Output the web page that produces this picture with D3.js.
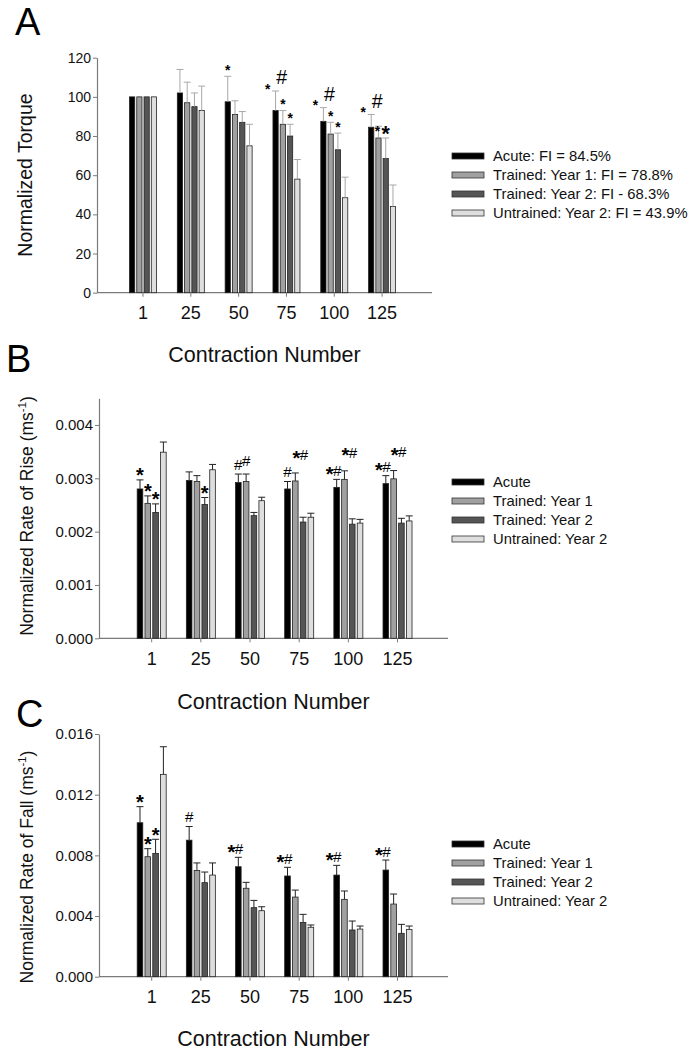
<!DOCTYPE html>
<html>
<head>
<meta charset="utf-8">
<script src="https://cdn.jsdelivr.net/npm/d3@7"></script>
<style>
  html, body { margin: 0; padding: 0; background: #fff; }
  svg { display: block; font-family: "Liberation Sans", Arial, sans-serif; }
</style>
</head>
<body>
<svg id="chart" width="690" height="1050"></svg>
<script>
// ---------------- DATA ----------------
const categories = ["1", "25", "50", "75", "100", "125"];
const seriesNames = ["Acute", "Trained: Year 1", "Trained: Year 2", "Untrained: Year 2"];
const legendLabelsA = ["Acute: FI = 84.5%", "Trained: Year 1: FI = 78.8%", "Trained: Year 2: FI - 68.3%", "Untrained: Year 2: FI = 43.9%"];
const xTitle = "Contraction Number";

// Panel A: normalized torque (rows = series, columns = categories)
const torqueMean = [
  [100, 102, 97.5, 93, 87.5, 84.5],
  [100, 97, 91, 86, 81, 79],
  [100, 95, 87, 80, 73, 68.5],
  [100, 93, 75, 58, 48.5, 44]
];
const torqueErr = [
  [0, 12, 13, 10, 7, 6.5],
  [0, 10.5, 7, 7, 6, 6],
  [0, 7, 5.5, 6, 8.5, 10.5],
  [0, 12.5, 11, 10, 10.5, 11]
];
const torqueTicks = [0, 20, 40, 60, 80, 100, 120];
// [categoryIndex, seriesIndex, symbol, placement, size]
const torqueMarks = [
  [2, 0, "*", "top", "s"],
  [3, 0, "*", "left", "s"], [3, 0, "#", "right", "L"], [3, 1, "*", "top", "s"], [3, 2, "*", "top", "s"],
  [4, 0, "*", "left", "s"], [4, 0, "#", "right", "L"], [4, 1, "*", "top", "s"], [4, 2, "*", "top", "s"],
  [5, 0, "*", "left", "s"], [5, 0, "#", "right", "L"], [5, 1, "*", "low", "s"], [5, 2, "*", "top", "L"]
];

// Panel B: normalized rate of rise
const riseMean = [
  [0.00280, 0.00296, 0.00292, 0.00280, 0.00283, 0.00290],
  [0.00253, 0.00294, 0.00294, 0.00295, 0.00298, 0.00299],
  [0.00236, 0.00251, 0.00230, 0.00218, 0.00214, 0.00216],
  [0.00349, 0.00316, 0.00258, 0.00227, 0.00216, 0.00220]
];
const riseErr = [
  [0.00017, 0.00016, 0.00016, 0.00014, 0.00015, 0.00015],
  [0.00014, 0.00011, 0.00014, 0.00015, 0.00016, 0.000155],
  [0.00016, 0.00013, 0.00006, 0.00009, 0.00010, 0.00009],
  [0.00019, 0.00010, 0.000065, 0.000075, 0.00007, 0.000095]
];
const riseTicks = [0, 0.001, 0.002, 0.003, 0.004];
const riseMarks = [
  [0, 0, "*", "top", "L"], [0, 1, "*", "top", "L"], [0, 2, "*", "top", "L"],
  [1, 2, "*", "top", "L"],
  [2, 0, "#", "top", "L"], [2, 1, "#", "high", "L"],
  [3, 0, "#", "top", "L"], [3, 1, "*#", "right", "L"],
  [4, 0, "*#", "top", "L"], [4, 1, "*#", "right", "L"],
  [5, 0, "*#", "top", "L"], [5, 1, "*#", "right", "L"]
];

// Panel C: normalized rate of fall
const fallMean = [
  [0.01015, 0.00900, 0.00725, 0.00664, 0.00670, 0.00703],
  [0.00791, 0.00700, 0.00583, 0.00525, 0.00510, 0.00479],
  [0.00813, 0.00620, 0.00455, 0.00358, 0.00308, 0.00286],
  [0.01334, 0.00670, 0.00435, 0.00326, 0.00314, 0.00312]
];
const fallErr = [
  [0.00106, 0.00090, 0.00062, 0.00057, 0.00064, 0.00066],
  [0.00053, 0.00050, 0.00039, 0.00046, 0.00055, 0.00066],
  [0.00093, 0.00070, 0.00048, 0.00053, 0.00059, 0.00059],
  [0.00182, 0.00080, 0.00026, 0.00015, 0.00020, 0.00022]
];
const fallTicks = [0, 0.004, 0.008, 0.012, 0.016];
const fallMarks = [
  [0, 0, "*", "top", "L"], [0, 1, "*", "top", "L"], [0, 2, "*", "top", "L"],
  [1, 0, "#", "top", "L"],
  [2, 0, "*#", "top", "L"], [3, 0, "*#", "top", "L"], [4, 0, "*#", "top", "L"], [5, 0, "*#", "top", "L"]
];

// ---------------- STYLE ----------------
const fills = ["#000000", "#a0a0a0", "#555555", "#dedede"];
const barStroke = "#222";
const axisColor = "#7a7a7a";

const svg = d3.select("#chart");

function drawPanel(cfg) {
  const g = svg.append("g");
  const y = d3.scaleLinear().domain(cfg.yDomain).range([cfg.y0, cfg.yTop]);
  const x0 = d3.scaleBand().domain(categories).range(cfg.band).padding(0);
  const x1 = d3.scaleBand().domain(d3.range(seriesNames.length)).range([0, cfg.groupW]).paddingInner(0.28);
  const barX = (c, s) => x0(categories[c]) + x0.bandwidth() / 2 - cfg.groupW / 2 + x1(s);
  const bw = x1.bandwidth();

  // y axis
  const ya = g.append("g").attr("transform", `translate(${cfg.axisX0},0)`)
    .call(d3.axisLeft(y).tickValues(cfg.yTicks).tickFormat(cfg.fmt).tickSize(4).tickSizeOuter(0));
  ya.select(".domain").attr("stroke", axisColor).attr("stroke-width", 1.2);
  ya.selectAll(".tick line").attr("stroke", axisColor);
  ya.selectAll(".tick text").attr("font-size", cfg.yTickFont).attr("fill", "#111")
    .attr("font-family", "Liberation Sans, Arial, sans-serif").attr("x", -6);

  // x axis
  const xa = g.append("g").attr("transform", `translate(0,${cfg.y0})`)
    .call(d3.axisBottom(x0).tickSize(4).tickSizeOuter(0));
  xa.select(".domain").remove();
  xa.selectAll(".tick line").attr("stroke", axisColor);
  xa.selectAll(".tick text").attr("font-size", 18).attr("fill", "#111")
    .attr("font-family", "Liberation Sans, Arial, sans-serif").attr("y", 14);
  g.append("line").attr("x1", cfg.axisX0).attr("x2", cfg.axisX1)
    .attr("y1", cfg.y0).attr("y2", cfg.y0).attr("stroke", axisColor).attr("stroke-width", 1.2);

  // bars
  const cells = [];
  cfg.mean.forEach((row, s) => row.forEach((v, c) => cells.push({ s, c, v, e: cfg.err[s][c] })));
  g.selectAll("rect.bar").data(cells).join("rect").attr("class", "bar")
    .attr("x", d => barX(d.c, d.s)).attr("width", bw)
    .attr("y", d => y(d.v)).attr("height", d => y(0) - y(d.v))
    .attr("fill", d => fills[d.s]).attr("stroke", barStroke).attr("stroke-width", 0.8);

  // error bars
  const eb = cells.filter(d => d.e > 0);
  g.selectAll("line.err").data(eb).join("line").attr("class", "err")
    .attr("x1", d => barX(d.c, d.s) + bw / 2).attr("x2", d => barX(d.c, d.s) + bw / 2)
    .attr("y1", d => y(d.v)).attr("y2", d => y(d.v + d.e))
    .attr("stroke", cfg.errColor).attr("stroke-width", 1);
  g.selectAll("line.cap").data(eb).join("line").attr("class", "cap")
    .attr("x1", d => barX(d.c, d.s) + bw / 2 - 3.5).attr("x2", d => barX(d.c, d.s) + bw / 2 + 3.5)
    .attr("y1", d => y(d.v + d.e)).attr("y2", d => y(d.v + d.e))
    .attr("stroke", cfg.errColor).attr("stroke-width", 1);

  // significance marks
  cfg.marks.forEach(([c, s, sym, place, size]) => {
    const cx0 = barX(c, s) + bw / 2;
    const top = y(cfg.mean[s][c] + cfg.err[s][c]);
    let cx = cx0, cy = top - 10;
    if (place === "top" && sym === "*#") { cx = cx0 - 3; cy = top - 9; }
    if (place === "left") { cx = cx0 - 8; cy = top - 6; }
    if (place === "right") { cx = cx0 + (sym === "#" ? 6 : 5); cy = top - (sym === "#" ? 14 : 19); }
    if (place === "high") { cy = top - 14; }
    if (place === "low") { cx = cx0 - 1; cy = top + 1; }
    const fs = size === "L" ? cfg.markFont : cfg.smallFont;
    const t = g.append("text").attr("x", cx).attr("text-anchor", "middle").attr("fill", "#000")
      .attr("font-family", "Liberation Sans, Arial, sans-serif");
    if (sym === "*") {
      t.attr("y", cy + 0.62 * fs * 1.25).attr("font-size", fs * 1.25).attr("font-weight", "bold").text("*");
    } else if (sym === "#") {
      t.attr("y", cy + 0.36 * fs * cfg.hashScale).attr("font-size", fs * cfg.hashScale).text("#");
    } else {
      t.attr("y", cy + 0.36 * fs).attr("font-size", fs * 0.95);
      t.append("tspan").attr("font-size", fs * 1.25).attr("font-weight", "bold").attr("dy", 0.3 * fs).text("*");
      t.append("tspan").attr("dx", -0.5).attr("dy", -0.3 * fs).text("#");
    }
  });

  // y-axis title
  const yl = g.append("text")
    .attr("transform", `translate(${cfg.yLabelX},${cfg.yLabelY}) rotate(-90)`)
    .attr("text-anchor", "middle").attr("font-size", cfg.yLabelFont).attr("fill", "#111");
  if (cfg.yLabelSup) {
    yl.append("tspan").text(cfg.yLabel);
    yl.append("tspan").attr("font-size", cfg.yLabelFont * 0.65).attr("dy", -cfg.yLabelFont * 0.4).text(cfg.yLabelSup);
    yl.append("tspan").attr("dy", cfg.yLabelFont * 0.4).text(")");
  } else {
    yl.text(cfg.yLabel);
  }

  // x-axis title
  g.append("text").attr("x", (cfg.axisX0 + cfg.axisX1) / 2).attr("y", cfg.y0 + cfg.xTitleOff)
    .attr("text-anchor", "middle").attr("font-size", 21.5).attr("fill", "#111").text(xTitle);

  // panel letter
  g.append("text").attr("x", cfg.letterX).attr("y", cfg.letterY).attr("font-size", 38)
    .attr("fill", "#000").text(cfg.letter);

  // legend
  const lg = g.append("g");
  cfg.legend.forEach((lab, i) => {
    const cy = cfg.legendY + i * 19;
    lg.append("rect").attr("x", 452).attr("y", cy - 3).attr("width", 32).attr("height", 6)
      .attr("fill", fills[i]).attr("stroke", "#333").attr("stroke-width", 0.8);
    lg.append("text").attr("x", 493).attr("y", cy + 5.2).attr("font-size", 14.8).attr("fill", "#111").text(lab);
  });
}

drawPanel({
  letter: "A", letterX: 15, letterY: 35,
  yDomain: [0, 120], y0: 292.7, yTop: 57.7, yTicks: torqueTicks, fmt: d3.format("d"), yTickFont: 14,
  axisX0: 97, axisX1: 432, band: [119.1, 406], groupW: 27,
  mean: torqueMean, err: torqueErr, errColor: "#a8a8a8",
  marks: torqueMarks, markFont: 17, smallFont: 11, hashScale: 1.15,
  yLabel: "Normalized Torque", yLabelSup: null, yLabelX: 32, yLabelY: 175, yLabelFont: 19.5,
  xTitleOff: 69, legend: legendLabelsA, legendY: 156
});

drawPanel({
  letter: "B", letterX: 6, letterY: 372,
  yDomain: [0, 0.0045], y0: 638.3, yTop: 398.3, yTicks: riseTicks, fmt: d3.format(".3f"), yTickFont: 15,
  axisX0: 99, axisX1: 448, band: [127.1, 422.1], groupW: 29,
  mean: riseMean, err: riseErr, errColor: "#222",
  marks: riseMarks, markFont: 16, smallFont: 12, hashScale: 0.95,
  yLabel: "Normalized Rate of Rise (ms", yLabelSup: "-1", yLabelX: 33, yLabelY: 516, yLabelFont: 17.5,
  xTitleOff: 71, legend: seriesNames, legendY: 482
});

drawPanel({
  letter: "C", letterX: 16, letterY: 727,
  yDomain: [0, 0.016], y0: 976.7, yTop: 734, yTicks: fallTicks, fmt: d3.format(".3f"), yTickFont: 15,
  axisX0: 99, axisX1: 448, band: [127.1, 422.1], groupW: 29,
  mean: fallMean, err: fallErr, errColor: "#222",
  marks: fallMarks, markFont: 16, smallFont: 12, hashScale: 0.95,
  yLabel: "Normalized Rate of Fall (ms", yLabelSup: "-1", yLabelX: 33, yLabelY: 867, yLabelFont: 17.5,
  xTitleOff: 69, legend: seriesNames, legendY: 844
});
</script>
</body>
</html>
